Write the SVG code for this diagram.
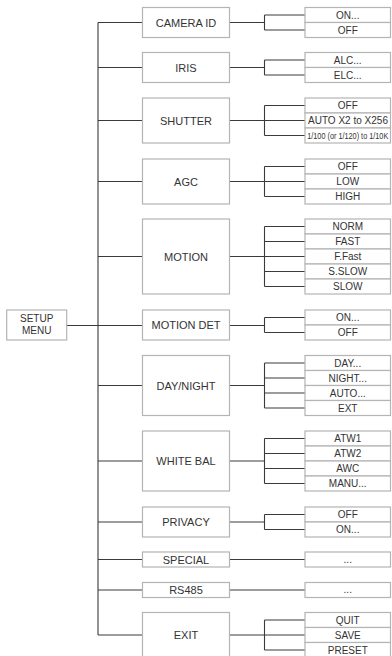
<svg xmlns="http://www.w3.org/2000/svg" width="392" height="656" viewBox="0 0 392 656">
<style>
.box{fill:#fff;stroke:#b4b4b4;stroke-width:1.2}
.ln{fill:none;stroke:#3a3a3a;stroke-width:1.1}
text{font-family:"Liberation Sans",Arial,sans-serif;fill:#333;text-anchor:middle}
.m{font-size:11px}
.o{font-size:10px}
</style>
<rect width="392" height="656" fill="#fff"/>
<g id="connectors">
<path class="ln" d="M98,22.5V635 M66.7,325.5H98"/>
<path class="ln" d="M98,22.5H142.5 M98,67.5H142.5 M98,120.5H142.5 M98,181.5H142.5 M98,256.5H142.5 M98,325.5H142.5 M98,385.5H142.5 M98,461H142.5 M98,522H142.5 M98,559.5H142.5 M98,590H142.5 M98,635H142.5"/>
<path class="ln" d="M229.5,22.5H264.5 M264.5,15V30 M264.5,15H305 M264.5,30H305"/>
<path class="ln" d="M229.5,67.5H264.5 M264.5,60V75 M264.5,60H305 M264.5,75H305"/>
<path class="ln" d="M229.5,120.5H305 M264.5,105.5V135.5 M264.5,105.5H305 M264.5,135.5H305"/>
<path class="ln" d="M229.5,181.5H305 M264.5,166.5V196.5 M264.5,166.5H305 M264.5,196.5H305"/>
<path class="ln" d="M229.5,256.5H305 M264.5,226.5V286.5 M264.5,226.5H305 M264.5,241.5H305 M264.5,271.5H305 M264.5,286.5H305"/>
<path class="ln" d="M229.5,325.5H264.5 M264.5,317.5V332.5 M264.5,317.5H305 M264.5,332.5H305"/>
<path class="ln" d="M229.5,385.5H264.5 M264.5,363V408 M264.5,363H305 M264.5,378H305 M264.5,393H305 M264.5,408H305"/>
<path class="ln" d="M229.5,461H264.5 M264.5,438.5V483.5 M264.5,438.5H305 M264.5,453.5H305 M264.5,468.5H305 M264.5,483.5H305"/>
<path class="ln" d="M229.5,522H264.5 M264.5,514.5V529.5 M264.5,514.5H305 M264.5,529.5H305"/>
<path class="ln" d="M229.5,559.5H305"/>
<path class="ln" d="M229.5,590H305"/>
<path class="ln" d="M229.5,635H305 M264.5,620V650 M264.5,620H305 M264.5,650H305"/>
</g>
<g id="setup-menu">
<rect class="box" x="6.7" y="310" width="60" height="30"/>
<text class="o" x="36.7" y="321.7">SETUP</text>
<text class="o" x="36.7" y="334.3">MENU</text>
</g>
<g id="camera-id">
<rect class="box" x="142.5" y="7.5" width="87" height="30"/>
<text class="m" x="186" y="26.5">CAMERA ID</text>
<rect class="box" x="305" y="7.5" width="85.5" height="15"/>
<rect class="box" x="305" y="22.5" width="85.5" height="15"/>
<text class="o" x="347.75" y="18.5">ON...</text>
<text class="o" x="347.75" y="33.5">OFF</text>
</g>
<g id="iris">
<rect class="box" x="142.5" y="52.5" width="87" height="30"/>
<text class="m" x="186" y="71.5">IRIS</text>
<rect class="box" x="305" y="52.5" width="85.5" height="15"/>
<rect class="box" x="305" y="67.5" width="85.5" height="15"/>
<text class="o" x="347.75" y="63.5">ALC...</text>
<text class="o" x="347.75" y="78.5">ELC...</text>
</g>
<g id="shutter">
<rect class="box" x="142.5" y="98" width="87" height="45"/>
<text class="m" x="186" y="124.5">SHUTTER</text>
<rect class="box" x="305" y="98" width="85.5" height="15"/>
<rect class="box" x="305" y="113" width="85.5" height="15"/>
<rect class="box" x="305" y="128" width="85.5" height="15"/>
<text class="o" x="347.75" y="109">OFF</text>
<text class="o" x="348" y="124" textLength="80" lengthAdjust="spacingAndGlyphs">AUTO X2 to X256</text>
<text font-size="8.5" transform="translate(347.75,138.6) scale(0.86,1)">1/100 (or 1/120) to 1/10K</text>
</g>
<g id="agc">
<rect class="box" x="142.5" y="159" width="87" height="45"/>
<text class="m" x="186" y="185.5">AGC</text>
<rect class="box" x="305" y="159" width="85.5" height="15"/>
<rect class="box" x="305" y="174" width="85.5" height="15"/>
<rect class="box" x="305" y="189" width="85.5" height="15"/>
<text class="o" x="347.75" y="170">OFF</text>
<text class="o" x="347.75" y="185">LOW</text>
<text class="o" x="347.75" y="200">HIGH</text>
</g>
<g id="motion">
<rect class="box" x="142.5" y="219" width="87" height="75"/>
<text class="m" x="186" y="260.5">MOTION</text>
<rect class="box" x="305" y="219" width="85.5" height="15"/>
<rect class="box" x="305" y="234" width="85.5" height="15"/>
<rect class="box" x="305" y="249" width="85.5" height="15"/>
<rect class="box" x="305" y="264" width="85.5" height="15"/>
<rect class="box" x="305" y="279" width="85.5" height="15"/>
<text class="o" x="347.75" y="230">NORM</text>
<text class="o" x="347.75" y="245">FAST</text>
<text class="o" x="347.75" y="260">F.Fast</text>
<text class="o" x="347.75" y="275">S.SLOW</text>
<text class="o" x="347.75" y="290">SLOW</text>
</g>
<g id="motion-det">
<rect class="box" x="142.5" y="310" width="87" height="30"/>
<text class="m" x="186" y="329">MOTION DET</text>
<rect class="box" x="305" y="310" width="85.5" height="15"/>
<rect class="box" x="305" y="325" width="85.5" height="15"/>
<text class="o" x="347.75" y="321">ON...</text>
<text class="o" x="347.75" y="336">OFF</text>
</g>
<g id="day-night">
<rect class="box" x="142.5" y="355.5" width="87" height="60"/>
<text class="m" x="186" y="389.5">DAY/NIGHT</text>
<rect class="box" x="305" y="355.5" width="85.5" height="15"/>
<rect class="box" x="305" y="370.5" width="85.5" height="15"/>
<rect class="box" x="305" y="385.5" width="85.5" height="15"/>
<rect class="box" x="305" y="400.5" width="85.5" height="15"/>
<text class="o" x="347.75" y="366.5">DAY...</text>
<text class="o" x="347.75" y="381.5">NIGHT...</text>
<text class="o" x="347.75" y="396.5">AUTO...</text>
<text class="o" x="347.75" y="411.5">EXT</text>
</g>
<g id="white-bal">
<rect class="box" x="142.5" y="431" width="87" height="60"/>
<text class="m" x="186" y="465">WHITE BAL</text>
<rect class="box" x="305" y="431" width="85.5" height="15"/>
<rect class="box" x="305" y="446" width="85.5" height="15"/>
<rect class="box" x="305" y="461" width="85.5" height="15"/>
<rect class="box" x="305" y="476" width="85.5" height="15"/>
<text class="o" x="347.75" y="442">ATW1</text>
<text class="o" x="347.75" y="457">ATW2</text>
<text class="o" x="347.75" y="472">AWC</text>
<text class="o" x="347.75" y="487">MANU...</text>
</g>
<g id="privacy">
<rect class="box" x="142.5" y="507" width="87" height="30"/>
<text class="m" x="186" y="526">PRIVACY</text>
<rect class="box" x="305" y="507" width="85.5" height="15"/>
<rect class="box" x="305" y="522" width="85.5" height="15"/>
<text class="o" x="347.75" y="518">OFF</text>
<text class="o" x="347.75" y="533">ON...</text>
</g>
<g id="special">
<rect class="box" x="142.5" y="552" width="87" height="15"/>
<text class="m" x="186" y="563.5">SPECIAL</text>
<rect class="box" x="305" y="552" width="85.5" height="15"/>
<text class="o" x="347.75" y="562.5" fill="#666">...</text>
</g>
<g id="rs485">
<rect class="box" x="142.5" y="582.5" width="87" height="15"/>
<text class="m" x="186" y="593.5">RS485</text>
<rect class="box" x="305" y="582.5" width="85.5" height="15"/>
<text class="o" x="347.75" y="593" fill="#666">...</text>
</g>
<g id="exit">
<rect class="box" x="142.5" y="612.5" width="87" height="45"/>
<text class="m" x="186" y="639">EXIT</text>
<rect class="box" x="305" y="612.5" width="85.5" height="15"/>
<rect class="box" x="305" y="627.5" width="85.5" height="15"/>
<rect class="box" x="305" y="642.5" width="85.5" height="15"/>
<text class="o" x="347.75" y="623.5">QUIT</text>
<text class="o" x="347.75" y="638.5">SAVE</text>
<text class="o" x="347.75" y="653.5">PRESET</text>
</g>
</svg>
